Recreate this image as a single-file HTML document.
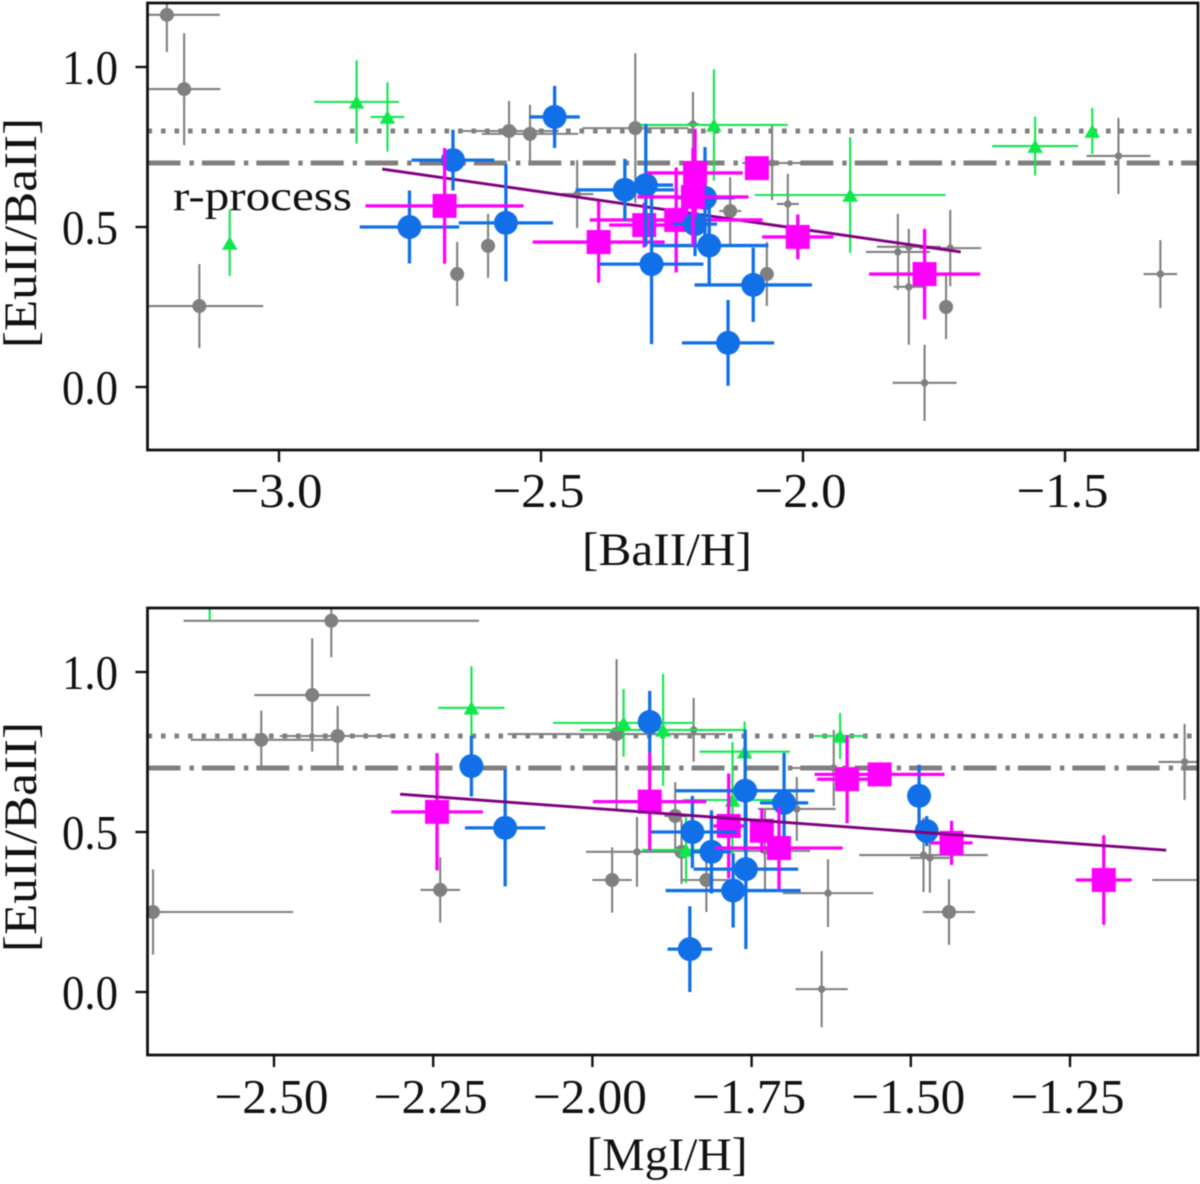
<!DOCTYPE html>
<html lang="en">
<head>
<meta charset="utf-8">
<title>[EuII/BaII] vs [BaII/H] and [MgI/H]</title>
<style>
html,body{margin:0;padding:0;background:#fff;}
body{width:1200px;height:1184px;overflow:hidden;}
svg{display:block;filter:blur(0.4px);}
text{font-family:"Liberation Serif",serif;fill:#111;}
</style>
</head>
<body>
<svg id="chart" xmlns="http://www.w3.org/2000/svg" width="1200" height="1184" viewBox="0 0 1200 1184">
  <defs>
    <clipPath id="clip-top"><rect x="147.5" y="3" width="1050.5" height="447"/></clipPath>
    <clipPath id="clip-bottom"><rect x="147.5" y="608" width="1050.5" height="447"/></clipPath>
  </defs>
  <g id="panel-top"></g>
  <g id="panel-bottom"></g>
</svg>
<script>
// ---------- top panel data: [BaII/H] ----------
const topGrayBigX = [-3.214,-3.181,-3.152,-2.561,-2.521,-2.601,-2.660,-2.320,-2.139,-2.069,-1.727];
const topGrayBigY = [1.163,0.931,0.253,0.800,0.791,0.441,0.353,0.809,0.550,0.353,0.250];
const topGrayBigXerr = [0.101,0.069,0.122,0.095,0.092,0,0,0.101,0.021,0,0];
const topGrayBigYerr = [0.116,0.175,0.131,0.094,0.091,0.100,0.100,0.234,0.106,0.100,0.100];

const topGraySmallX = [-2.431,-2.210,-2.059,-2.029,-1.819,-1.798,-1.798,-1.719,-1.768,-1.398,-1.318];
const topGraySmallY = [0.603,0.822,0.700,0.572,0.422,0.438,0.313,0.434,0.013,0.722,0.353];
const topGraySmallXerr = [0.031,0.010,0.057,0.021,0.061,0.061,0.029,0.059,0.061,0.061,0.032];
const topGraySmallYerr = [0.106,0.100,0.116,0.094,0.119,0,0.181,0.119,0.119,0.119,0.106];

const topGreenX = [-2.852,-2.793,-3.094,-2.170,-1.910,-1.557,-1.448];
const topGreenY = [0.891,0.844,0.450,0.819,0.600,0.753,0.800];
const topGreenXerr = [0.081,0.032,0,0.141,0.182,0.082,0];
const topGreenYerr = [0.130,0.108,0.103,0.174,0.181,0.092,0.072];

const topBlueX = [-2.751,-2.668,-2.567,-2.474,-2.340,-2.300,-2.289,-2.179,-2.187,-2.206,-2.095,-2.143];
const topBlueY = [0.500,0.709,0.513,0.844,0.616,0.631,0.384,0.442,0.591,0.509,0.319,0.138];
const topBlueXerr = [0.095,0.079,0.090,0.048,0.094,0.052,0.099,0.113,0.057,0.042,0.112,0.088];
const topBlueYerr = [0.114,0.095,0.183,0.097,0.097,0.191,0.250,0.128,0.159,0.100,0.116,0.134];

const topMagentaUnderX = [-2.390,-2.303,-2.242];
const topMagentaUnderY = [0.453,0.506,0.522];
const topMagentaUnderXerr = [0.126,0.067,0.165];
const topMagentaUnderYerr = [0.127,0.070,0.164];

const topMagentaOverX = [-2.684,-2.206,-2.210,-2.088,-2.010,-1.768];
const topMagentaOverY = [0.566,0.669,0.594,0.684,0.469,0.353];
const topMagentaOverXerr = [0.151,0.091,0.106,0,0.068,0.106];
const topMagentaOverYerr = [0.181,0.138,0.153,0,0.070,0.141];

const topFitX = [-2.803,-1.699];
const topFitY = [0.681,0.422];

// ---------- bottom panel data: [MgI/H] ----------
const bottomGrayBigX = [-2.410,-2.440,-2.520,-2.400,-2.690,-2.239,-1.969,-1.962,-1.870,-1.860,-1.821,-1.440];
const bottomGrayBigY = [1.160,0.928,0.788,0.800,0.250,0.319,0.350,0.806,0.550,0.438,0.350,0.250];
const bottomGrayBigXerr = [0.232,0.091,0.111,0.091,0.220,0.031,0.031,0.171,0.017,0,0.039,0.041];
const bottomGrayBigYerr = [0.114,0.177,0.091,0.094,0.133,0.102,0.102,0.234,0.106,0.100,0.100,0.103];

const bottomGraySmallX = [-1.930,-1.841,-1.679,-1.729,-1.630,-1.640,-1.480,-1.470,-1.070,-1.621,-1.038];
const bottomGraySmallY = [0.438,0.819,0.572,0.441,0.309,0.009,0.428,0.419,0.719,0.700,0.350];
const bottomGraySmallXerr = [0.080,0.008,0.061,0.071,0.071,0.041,0.101,0.031,0.041,0.069,0.083];
const bottomGraySmallYerr = [0.109,0.100,0.100,0.128,0.106,0.119,0.116,0.109,0.119,0.119,0.106];

const bottomGreenX = [-2.601,-2.190,-1.951,-1.889,-1.761,-1.780,-1.853,-1.611];
const bottomGreenY = [1.300,0.888,0.841,0.819,0.751,0.600,0.444,0.800];
const bottomGreenXerr = [0,0.052,0.111,0.130,0.071,0.078,0.069,0.041];
const bottomGreenYerr = [0.137,0.130,0.106,0.175,0.094,0.181,0.103,0.072];

const bottomBlueX = [-2.190,-2.137,-1.910,-1.843,-1.813,-1.760,-1.699,-1.759,-1.779,-1.847,-1.487,-1.475];
const bottomBlueY = [0.706,0.513,0.844,0.500,0.438,0.629,0.591,0.384,0.317,0.134,0.613,0.503];
const bottomBlueXerr = [0,0.063,0,0.069,0.031,0.109,0.038,0.082,0.106,0.035,0.013,0.016];
const bottomBlueYerr = [0.095,0.183,0.097,0.113,0.130,0.191,0.156,0.250,0.116,0.134,0.097,0.047];

const bottomMagentaUnderX = [-1.786,-1.734];
const bottomMagentaUnderY = [0.519,0.504];
const bottomMagentaUnderXerr = [0.024,0.008];
const bottomMagentaUnderYerr = [0.164,0.069];

const bottomMagentaOverX = [-2.244,-1.910,-1.707,-1.600,-1.549,-1.436,-1.197];
const bottomMagentaOverY = [0.563,0.595,0.450,0.665,0.680,0.466,0.350];
const bottomMagentaOverXerr = [0.072,0.089,0.100,0.047,0.102,0.033,0.044];
const bottomMagentaOverYerr = [0.183,0.153,0.128,0.138,0,0.069,0.140];

const bottomFitX = [-2.302,-1.099];
const bottomFitY = [0.618,0.443];

// ---------- shared reference levels and ticks ----------
const referenceDotted = [0.8];
const referenceDashDot = [0.7];
const yTickValues = [0, 0.5, 1];
const yTickLabels = ['0.0', '0.5', '1.0'];
const topXTickValues = [-3, -2.5, -2, -1.5];
const topXTickLabels = ['\u22123.0', '\u22122.5', '\u22122.0', '\u22121.5'];
const bottomXTickValues = [-2.5, -2.25, -2, -1.75, -1.5, -1.25];
const bottomXTickLabels = ['\u22122.50', '\u22122.25', '\u22122.00', '\u22121.75', '\u22121.50', '\u22121.25'];

const NS = 'http://www.w3.org/2000/svg';
const GRAY = '#808080', GREEN = '#0fe84a', BLUE = '#1170e8', MAGENTA = '#ff00ff', PURPLE = '#800080';

function el(tag, parent, attrs) {
  const node = document.createElementNS(NS, tag);
  for (const k in attrs) node.setAttribute(k, attrs[k]);
  parent.appendChild(node);
  return node;
}
function linearScale(d0, d1, r0, r1) {
  return function (v) { return r0 + (v - d0) * (r1 - r0) / (d1 - d0); };
}
function errorBars(parent, sx, sy, x, y, xe, ye, color, width) {
  if (xe > 0) el('line', parent, {x1: sx(x - xe), x2: sx(x + xe), y1: sy(y), y2: sy(y), stroke: color, 'stroke-width': width});
  if (ye > 0) el('line', parent, {x1: sx(x), x2: sx(x), y1: sy(y - ye), y2: sy(y + ye), stroke: color, 'stroke-width': width});
}
function drawSeries(parent, sx, sy, xs, ys, xes, yes, kind) {
  xs.forEach(function (x, i) {
    const g = el('g', parent, {});
    
    
    const px = sx(x), py = sy(ys[i]);
    if (kind === 'gray-large' || kind === 'gray-small') {
      errorBars(g, sx, sy, x, ys[i], xes[i], yes[i], GRAY, 2.1);
      el('circle', g, {cx: px, cy: py, r: kind === 'gray-large' ? 7 : 3.7, fill: GRAY});
    } else if (kind === 'green-triangle') {
      errorBars(g, sx, sy, x, ys[i], xes[i], yes[i], GREEN, 2.1);
      el('polygon', g, {points: (px - 7.8) + ',' + (py + 6.8) + ' ' + (px + 7.8) + ',' + (py + 6.8) + ' ' + px + ',' + (py - 6.8), fill: GREEN});
    } else if (kind === 'blue-circle') {
      errorBars(g, sx, sy, x, ys[i], xes[i], yes[i], BLUE, 3.3);
      el('circle', g, {cx: px, cy: py, r: 12, fill: BLUE});
    } else {
      errorBars(g, sx, sy, x, ys[i], xes[i], yes[i], MAGENTA, 3.3);
      el('rect', g, {x: px - 12, y: py - 12, width: 24, height: 24, fill: MAGENTA});
    }
  });
}
function drawRefLine(parent, sy, value, dash, name, left, right) {
  const ln = el('line', parent, {x1: left, x2: right, y1: sy(value), y2: sy(value), stroke: GRAY, 'stroke-width': 5, 'stroke-dasharray': dash});
  
  
}
function drawFit(parent, sx, sy, xs, ys) {
  const ln = el('line', parent, {x1: sx(xs[0]), x2: sx(xs[1]), y1: sy(ys[0]), y2: sy(ys[1]), stroke: PURPLE, 'stroke-width': 2.9});
  
  
}
function drawAxes(parent, sx, sy, frame, xVals, xLabs, xTickWidth, xBaseline) {
  const fr = el('rect', parent, {x: frame.l, y: frame.t, width: frame.r - frame.l, height: frame.b - frame.t, fill: 'none', stroke: '#111', 'stroke-width': 2.8});
  
  
  xVals.forEach(function (v, i) {
    const t = el('line', parent, {x1: sx(v), x2: sx(v), y1: frame.b, y2: frame.b + 12, stroke: '#111', 'stroke-width': 2.4});
    
    
    const lab = el('text', parent, {x: sx(v) - 2.5, y: xBaseline, 'text-anchor': 'middle', 'font-size': 49, textLength: xTickWidth, lengthAdjust: 'spacingAndGlyphs'});
    lab.textContent = xLabs[i];
    
    
  });
  yTickValues.forEach(function (v, i) {
    const t = el('line', parent, {x1: frame.l - 12, x2: frame.l, y1: sy(v), y2: sy(v), stroke: '#111', 'stroke-width': 2.4});
    
    
    const lab = el('text', parent, {x: 62, y: sy(v) + 17, 'font-size': 49, textLength: 56, lengthAdjust: 'spacingAndGlyphs'});
    lab.textContent = yTickLabels[i];
    
    
  });
}
function drawYTitle(parent, cy) {
  const t = el('text', parent, {x: 0, y: 0, transform: 'translate(36,' + cy + ') rotate(-90)', 'text-anchor': 'middle', 'font-size': 47, textLength: 230, lengthAdjust: 'spacingAndGlyphs'});
  t.textContent = '[EuII/BaII]';
  
  
}
function drawXTitle(parent, text, cx, baseline, width) {
  const t = el('text', parent, {x: cx, y: baseline, 'text-anchor': 'middle', 'font-size': 47, textLength: width, lengthAdjust: 'spacingAndGlyphs'});
  t.textContent = text;
  
  
}

// ---------- top panel ----------
(function () {
  const root = document.getElementById('panel-top');
  const frame = {l: 147.5, r: 1198, t: 3, b: 450};
  const sx = linearScale(-3, -1.5, 279, 1065);
  const sy = linearScale(0, 1, 387, 67);
  const plot = el('g', root, {'clip-path': 'url(#clip-top)'});
  
  
  drawRefLine(plot, sy, referenceDotted[0], '4.6 8.9', 'reference-line-dotted', frame.l, frame.r);
  drawRefLine(plot, sy, referenceDashDot[0], '33 9 4.4 8', 'r-process-line', frame.l, frame.r);
  drawSeries(plot, sx, sy, topGrayBigX, topGrayBigY, topGrayBigXerr, topGrayBigYerr, 'gray-large');
  drawSeries(plot, sx, sy, topGraySmallX, topGraySmallY, topGraySmallXerr, topGraySmallYerr, 'gray-small');
  drawSeries(plot, sx, sy, topGreenX, topGreenY, topGreenXerr, topGreenYerr, 'green-triangle');
  drawFit(plot, sx, sy, topFitX, topFitY);
  drawSeries(plot, sx, sy, topMagentaUnderX, topMagentaUnderY, topMagentaUnderXerr, topMagentaUnderYerr, 'magenta-square');
  drawSeries(plot, sx, sy, topBlueX, topBlueY, topBlueXerr, topBlueYerr, 'blue-circle');
  drawSeries(plot, sx, sy, topMagentaOverX, topMagentaOverY, topMagentaOverXerr, topMagentaOverYerr, 'magenta-square');
  const note = el('text', root, {x: 173, y: 210, 'font-size': 42, textLength: 179, lengthAdjust: 'spacingAndGlyphs'});
  note.textContent = 'r-process';
  
  
  drawAxes(root, sx, sy, frame, topXTickValues, topXTickLabels, 92, 507);
  drawYTitle(root, 233);
  drawXTitle(root, '[BaII/H]', 667, 565, 170);
})();

// ---------- bottom panel ----------
(function () {
  const root = document.getElementById('panel-bottom');
  const frame = {l: 147.5, r: 1198, t: 608, b: 1055};
  const sx = linearScale(-2.5, -1.25, 274, 1070);
  const sy = linearScale(0, 1, 992, 672);
  const plot = el('g', root, {'clip-path': 'url(#clip-bottom)'});
  
  
  drawRefLine(plot, sy, referenceDotted[0], '4.6 8.9', 'reference-line-dotted', frame.l, frame.r);
  drawRefLine(plot, sy, referenceDashDot[0], '33 9 4.4 8', 'r-process-line', frame.l, frame.r);
  drawSeries(plot, sx, sy, bottomGrayBigX, bottomGrayBigY, bottomGrayBigXerr, bottomGrayBigYerr, 'gray-large');
  drawSeries(plot, sx, sy, bottomGraySmallX, bottomGraySmallY, bottomGraySmallXerr, bottomGraySmallYerr, 'gray-small');
  drawSeries(plot, sx, sy, bottomGreenX, bottomGreenY, bottomGreenXerr, bottomGreenYerr, 'green-triangle');
  drawSeries(plot, sx, sy, bottomMagentaUnderX, bottomMagentaUnderY, bottomMagentaUnderXerr, bottomMagentaUnderYerr, 'magenta-square');
  drawSeries(plot, sx, sy, bottomBlueX, bottomBlueY, bottomBlueXerr, bottomBlueYerr, 'blue-circle');
  drawSeries(plot, sx, sy, bottomMagentaOverX, bottomMagentaOverY, bottomMagentaOverXerr, bottomMagentaOverYerr, 'magenta-square');
  drawFit(plot, sx, sy, bottomFitX, bottomFitY);
  drawAxes(root, sx, sy, frame, bottomXTickValues, bottomXTickLabels, 114, 1113);
  drawYTitle(root, 837);
  drawXTitle(root, '[MgI/H]', 667, 1170, 161);
})();
</script>
</body>
</html>
